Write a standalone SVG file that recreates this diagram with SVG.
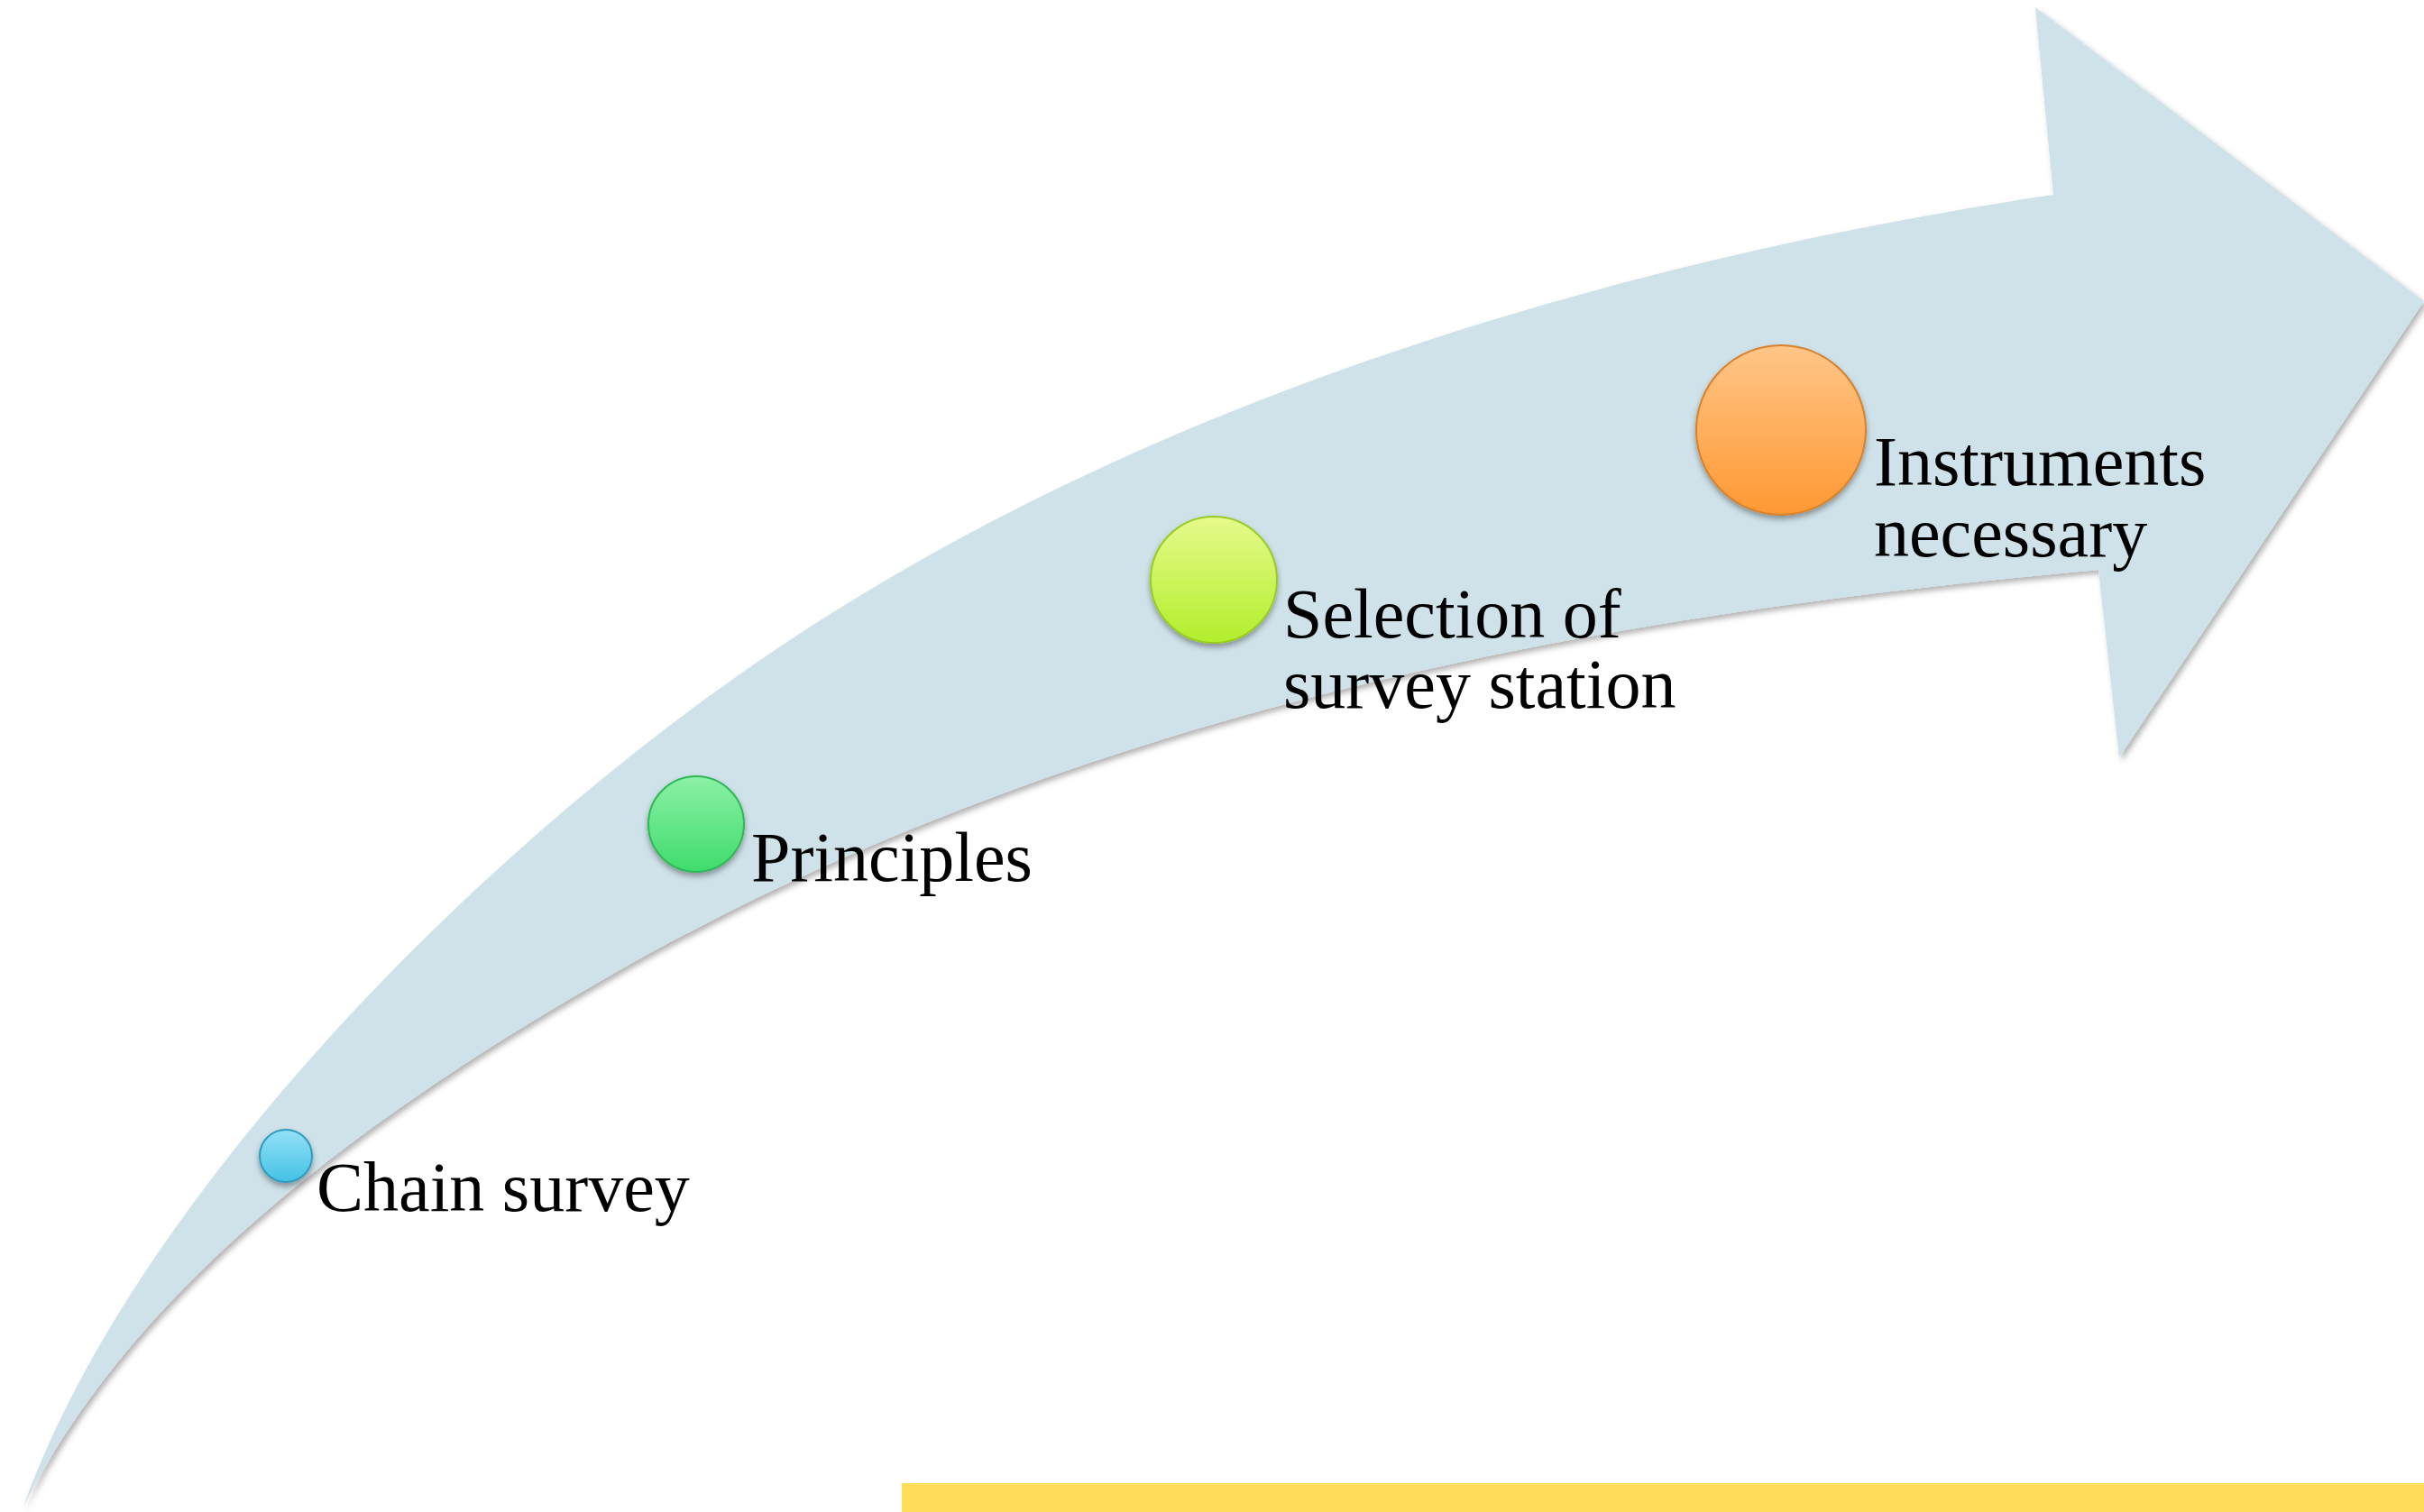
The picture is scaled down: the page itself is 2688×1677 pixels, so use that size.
<svg xmlns="http://www.w3.org/2000/svg" width="2688" height="1677" viewBox="0 0 2688 1677">
  <style>
    .lbl { font-family: "Liberation Serif", "Times New Roman", serif; font-size: 78px; fill: #000000; }
    .dot { stroke-width: 2; }
  </style>
  <defs>
    <filter id="arrowShadow" x="-5%" y="-5%" width="110%" height="110%">
      <feDropShadow dx="3" dy="4" stdDeviation="3" flood-color="#000000" flood-opacity="0.3"/>
    </filter>
    <filter id="dotShadow" x="-30%" y="-30%" width="160%" height="170%">
      <feDropShadow dx="0" dy="4" stdDeviation="3" flood-color="#000000" flood-opacity="0.35"/>
    </filter>
    <linearGradient id="gBlue" x1="0" y1="0" x2="0" y2="1">
      <stop offset="0" stop-color="#92E0F5"/>
      <stop offset="1" stop-color="#45C2E6"/>
    </linearGradient>
    <linearGradient id="gGreen" x1="0" y1="0" x2="0" y2="1">
      <stop offset="0" stop-color="#8CF0A6"/>
      <stop offset="1" stop-color="#3FDC6C"/>
    </linearGradient>
    <linearGradient id="gLime" x1="0" y1="0" x2="0" y2="1">
      <stop offset="0" stop-color="#E6FA8C"/>
      <stop offset="1" stop-color="#B2EE2C"/>
    </linearGradient>
    <linearGradient id="gOrange" x1="0" y1="0" x2="0" y2="1">
      <stop offset="0" stop-color="#FFC688"/>
      <stop offset="1" stop-color="#FF9833"/>
    </linearGradient>
  </defs>

  <rect x="0" y="0" width="2688" height="1677" fill="#FFFFFF"/>

  <g id="arrow">
    <path filter="url(#arrowShadow)" fill="#CFE2E9" d="M 26,1671 C 146,1335 531,934 891,700 C 1311,427 1827,283.5 2277,216 L 2257,8 L 2688,334 L 2350,840 L 2327,632 C 1850,675 1230,766 680,1080 C 440,1217 156,1411 26,1671 Z"/>
  </g>

  <g id="connectors"></g>

  <g id="node-chain-survey">
    <circle class="dot" cx="317" cy="1282" r="29" fill="url(#gBlue)" stroke="#2E9CC0" filter="url(#dotShadow)"/>
    <text class="lbl" x="351" y="1343">Chain survey</text>
  </g>

  <g id="node-principles">
    <circle class="dot" cx="772" cy="914" r="53" fill="url(#gGreen)" stroke="#2DB857" filter="url(#dotShadow)"/>
    <text class="lbl" x="833" y="977">Principles</text>
  </g>

  <g id="node-selection">
    <circle class="dot" cx="1346" cy="643" r="70" fill="url(#gLime)" stroke="#98CC22" filter="url(#dotShadow)"/>
    <text class="lbl" x="1423" y="707">Selection of</text>
    <text class="lbl" x="1423" y="785">survey station</text>
  </g>

  <g id="node-instruments">
    <circle class="dot" cx="1975" cy="477" r="94" fill="url(#gOrange)" stroke="#D9802A" filter="url(#dotShadow)"/>
    <text class="lbl" x="2078" y="538">Instruments</text>
    <text class="lbl" x="2078" y="617">necessary</text>
  </g>

  <rect id="bar" x="1000" y="1645" width="1688" height="32" fill="#FFDE59"/>
</svg>
